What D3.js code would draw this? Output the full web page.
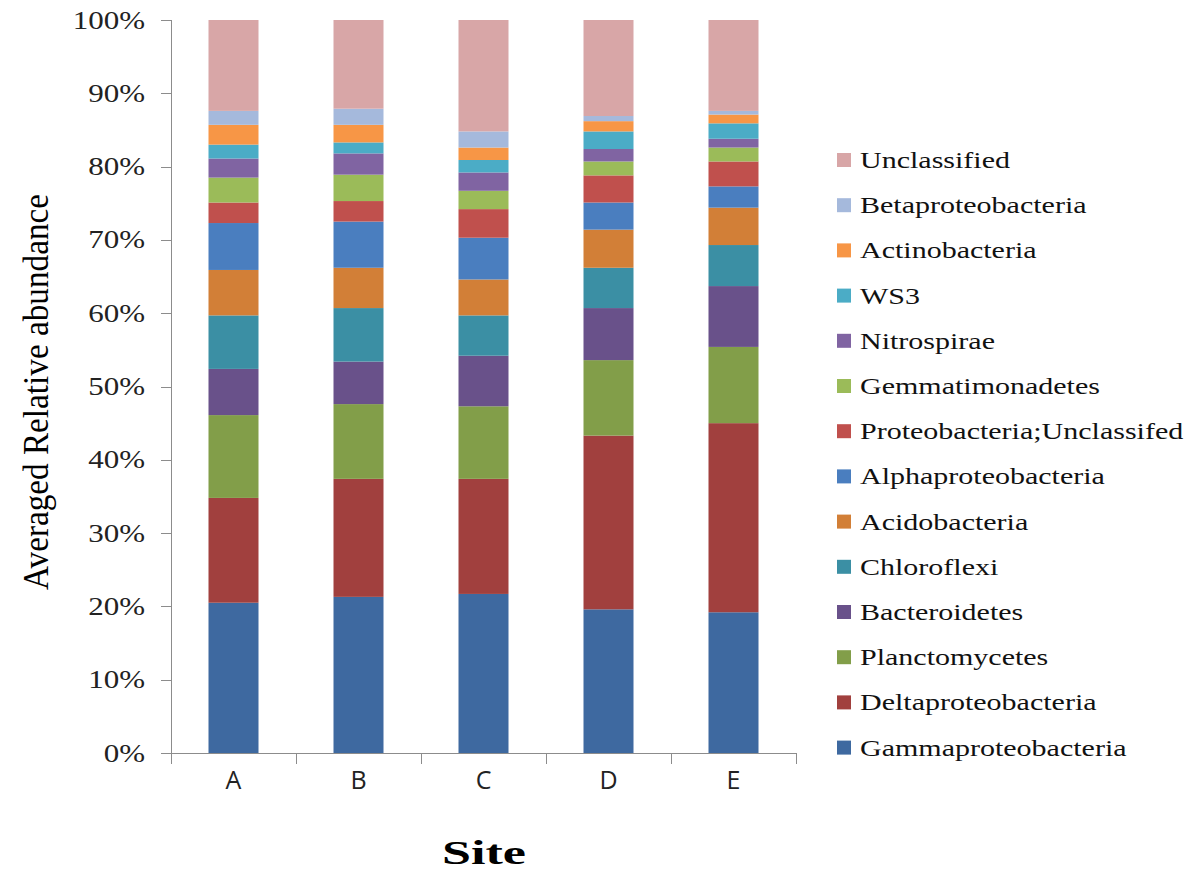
<!DOCTYPE html>
<html>
<head>
  <script src="https://d3js.org/d3.v7.min.js"></script>
  <style>
    body { margin: 0; background: #fff; }
    .axis path, .axis line { stroke: #8c8c8c; shape-rendering: crispEdges; }
    .y.axis text { font-family: "Liberation Serif", serif; font-size: 25px; fill: #222; }
    .x.axis text { font-family: "Open Sans", sans-serif; font-size: 25px; fill: #222; }
    .legend text { font-family: "Liberation Serif", serif; font-size: 24px; fill: #111; }
  </style>
</head>
<body>
  <div id="chart"></div>
  <script>
    const sites = ["A", "B", "C", "D", "E"];
    // stacking order, bottom to top
    const taxa = ["Gammaproteobacteria", "Deltaproteobacteria", "Planctomycetes", "Bacteroidetes",
      "Chloroflexi", "Acidobacteria", "Alphaproteobacteria", "Proteobacteria;Unclassifed",
      "Gemmatimonadetes", "Nitrospirae", "WS3", "Actinobacteria", "Betaproteobacteria", "Unclassified"];
    const colors = ["#3e69a0", "#a1403e", "#829e49", "#69518a", "#3b8fa4", "#d27f37", "#4a7ebf",
      "#c0504d", "#9bbb59", "#8064a2", "#4bacc6", "#f79646", "#a5b9dc", "#d8a6a7"];
    // percent values per site (A..E) for each taxon
    const gamma   = [20.5, 21.3, 21.7, 19.6, 19.2];
    const delta   = [14.3, 16.1, 15.7, 23.7, 25.8];
    const plancto = [11.3, 10.2, 9.9, 10.3, 10.4];
    const bactero = [6.3, 5.8, 6.9, 7.1, 8.3];
    const chloro  = [7.3, 7.3, 5.5, 5.5, 5.6];
    const acido   = [6.2, 5.5, 4.9, 5.2, 5.1];
    const alpha   = [6.4, 6.3, 5.7, 3.7, 2.9];
    const proteoU = [2.8, 2.8, 3.9, 3.7, 3.4];
    const gemmat  = [3.4, 3.6, 2.5, 1.9, 1.9];
    const nitro   = [2.6, 2.9, 2.5, 1.7, 1.2];
    const ws3     = [1.9, 1.5, 1.7, 2.4, 2.1];
    const actino  = [2.7, 2.4, 1.7, 1.4, 1.2];
    const beta    = [1.9, 2.2, 2.2, 0.7, 0.5];
    const unclass = [12.4, 12.1, 15.2, 13.1, 12.4];
    const series = [gamma, delta, plancto, bactero, chloro, acido, alpha, proteoU,
      gemmat, nitro, ws3, actino, beta, unclass];
    const yTicks = [0, 10, 20, 30, 40, 50, 60, 70, 80, 90, 100];

    const W = 1200, H = 873;
    const svg = d3.select("#chart").append("svg").attr("width", W).attr("height", H);

    // the source picture is stretched sideways, so widen the text a bit
    function stretch(sel, k) {
      sel.each(function() {
        const len = this.getComputedTextLength();
        d3.select(this).attr("textLength", len * k).attr("lengthAdjust", "spacingAndGlyphs");
      });
    }

    const data = sites.map((s, i) => {
      const row = { site: s };
      taxa.forEach((t, j) => row[t] = series[j][i]);
      return row;
    });
    const stacked = d3.stack().keys(taxa)(data);

    const x = d3.scaleBand().domain(sites).range([171, 796]).paddingInner(0).paddingOuter(0);
    const y = d3.scaleLinear().domain([0, 100]).range([753, 20]);
    const color = d3.scaleOrdinal().domain(taxa).range(colors);
    const barW = 50;

    // bars
    svg.append("g").selectAll("g")
      .data(stacked)
      .join("g")
        .attr("fill", d => color(d.key))
      .selectAll("rect")
      .data(d => d)
      .join("rect")
        .attr("x", d => x(d.data.site) + (x.bandwidth() - barW) / 2)
        .attr("y", d => y(d[1]))
        .attr("width", barW)
        .attr("height", d => y(d[0]) - y(d[1]));

    // y axis
    const yg = svg.append("g")
      .attr("class", "y axis")
      .attr("transform", "translate(171,0)")
      .call(d3.axisLeft(y).tickValues(yTicks).tickSize(10).tickPadding(16).tickFormat(d => d + "%"));
    stretch(yg.selectAll("text"), 1.24);

    // x axis, ticks at category boundaries
    const xg = svg.append("g")
      .attr("class", "x axis")
      .attr("transform", "translate(0,753)")
      .call(d3.axisBottom(x).tickSize(0).tickPadding(18));
    xg.select(".domain").attr("d", "M171,0H796");
    xg.selectAll(".bound")
      .data(d3.range(sites.length + 1))
      .join("line")
        .attr("class", "bound")
        .attr("x1", i => 171 + i * x.bandwidth())
        .attr("x2", i => 171 + i * x.bandwidth())
        .attr("y1", 0).attr("y2", 11);

    // axis titles
    svg.append("text")
      .attr("x", 484).attr("y", 864)
      .attr("text-anchor", "middle")
      .style("font-family", "Liberation Serif, serif")
      .style("font-weight", "bold")
      .style("font-size", "34px")
      .attr("textLength", 84)
      .attr("lengthAdjust", "spacingAndGlyphs")
      .text("Site");

    svg.append("text")
      .attr("transform", "translate(48,392) rotate(-90) scale(1,1.3)")
      .attr("text-anchor", "middle")
      .style("font-family", "Liberation Serif, serif")
      .style("font-size", "28px")
      .attr("textLength", 396)
      .attr("lengthAdjust", "spacingAndGlyphs")
      .text("Averaged Relative abundance");

    // legend, top to bottom
    const legendItems = taxa.slice().reverse();
    const lg = svg.append("g").attr("class", "legend");
    const rows = lg.selectAll("g")
      .data(legendItems)
      .join("g")
        .attr("transform", (d, i) => `translate(837,${160 + i * 45.2})`);
    rows.append("rect")
      .attr("x", 0).attr("y", -7)
      .attr("width", 14).attr("height", 14)
      .attr("fill", d => color(d));
    const lt = rows.append("text")
      .attr("x", 23).attr("y", 8)
      .text(d => d);
    stretch(lt, 1.25);
  </script>
</body>
</html>
